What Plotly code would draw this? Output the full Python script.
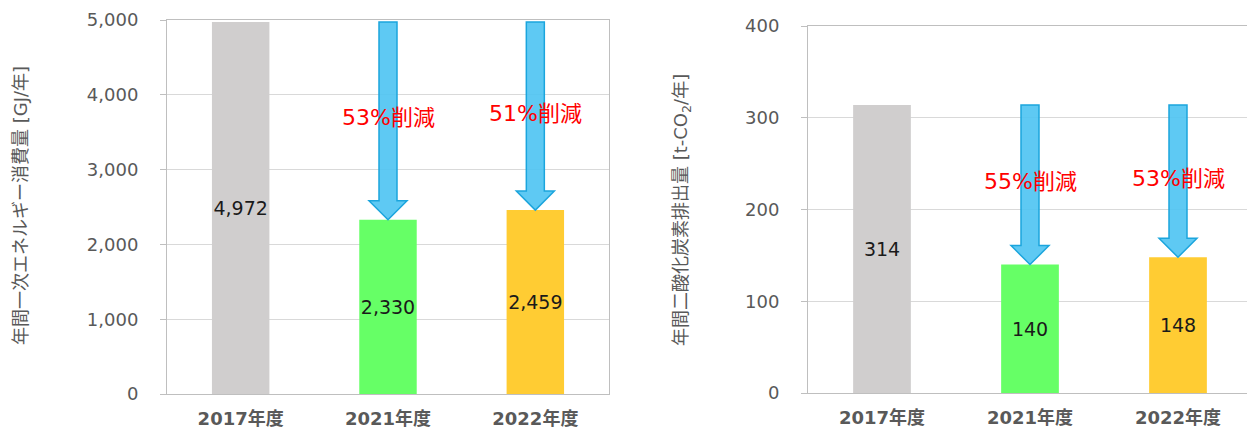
import plotly.graph_objects as go

categories = ["2017年度", "2021年度", "2022年度"]
energy = [4972, 2330, 2459]
co2 = [314, 140, 148]
energy_cut = ["53%削減", "51%削減"]
co2_cut = ["55%削減", "53%削減"]
energy_ticks = [0, 1000, 2000, 3000, 4000, 5000]
co2_ticks = [0, 100, 200, 300, 400]
bar_colors = ["#D0CECE", "#66FF66", "#FFCC33"]

# page is 1255x429; the html body has an 8px default margin
OFF = 8
W, H = 1255 - OFF, 429 - OFF
FONT = "Verdana, 'DejaVu Sans', 'Noto Sans CJK JP', sans-serif"
GRAY = "#595959"

# pixel geometry of each panel (page coordinates)
panels = [
    dict(x0=167, x1=609, ytop=20, ybot=394, ymax=5000, data=energy, cuts=energy_cut, ticks=energy_ticks,
         xa="x", ya="y", title="年間一次エネルギー消費量 [GJ/年]", tx=20, ty=206),
    dict(x0=808, x1=1252, ytop=26, ybot=393, ymax=400, data=co2, cuts=co2_cut, ticks=co2_ticks,
         xa="x2", ya="y2", title="年間二酸化炭素排出量 [t-CO<sub>2</sub>/年]", tx=682, ty=210),
]


def px(v):
    return (v - OFF) / W


def py(v):
    return 1 - (v - OFF) / H


fig = go.Figure()
shapes = []
annotations = []
xs = list(range(len(categories)))

for i, p in enumerate(panels):
    fig.add_trace(go.Bar(
        x=xs, y=p["data"], marker=dict(color=bar_colors, line=dict(width=0)),
        width=0.39, texttemplate="%{y:,.0f}", textposition="inside", textangle=0,
        insidetextanchor="middle", textfont=dict(family=FONT, size=19, color="#1a1a1a"),
        constraintext="none", xaxis=p["xa"], yaxis=p["ya"], showlegend=False,
        hoverinfo="skip",
    ))
    pxu = (p["x1"] - p["x0"]) / 3.0  # px per category unit
    pyu = (p["ybot"] - p["ytop"]) / p["ymax"]  # px per data unit
    shaft = 9 / pxu
    head = 19 / pxu
    headh = 19 / pyu
    base = p["data"][0]
    for k, (val, txt) in enumerate(zip(p["data"][1:], p["cuts"]), start=1):
        cx = xs[k]
        path = (f"M {cx-shaft},{base} L {cx+shaft},{base} L {cx+shaft},{val+headh} "
                f"L {cx+head},{val+headh} L {cx},{val} L {cx-head},{val+headh} "
                f"L {cx-shaft},{val+headh} Z")
        shapes.append(dict(type="path", path=path, xref=p["xa"], yref=p["ya"],
                           fillcolor="rgba(80,196,242,0.92)", line=dict(color="#1BA5DD", width=1.5),
                           layer="above"))
        annotations.append(dict(x=cx, y=(base + val) / 2, xref=p["xa"], yref=p["ya"], text=txt,
                                showarrow=False, yshift=3,
                                font=dict(family=FONT, size=22, color="#FF0000")))
    annotations.append(dict(x=px(p["tx"]), y=py(p["ty"]), xref="paper", yref="paper",
                            text=p["title"], textangle=-90, showarrow=False,
                            xanchor="center", yanchor="middle",
                            font=dict(family=FONT, size=18, color=GRAY)))

axis_common = dict(showline=True, linecolor="#BFBFBF", linewidth=1, mirror=True, automargin=False)

fig.update_layout(
    width=W, height=H, margin=dict(l=0, r=0, t=0, b=0, pad=0, autoexpand=False),
    paper_bgcolor="white", plot_bgcolor="white",
    shapes=shapes, annotations=annotations, bargap=0.6,
    xaxis=dict(domain=[px(panels[0]["x0"]), px(panels[0]["x1"])], range=[-0.5, 2.5],
               tickvals=xs, ticktext=categories, ticks="", ticklabelstandoff=8,
               tickfont=dict(family=FONT, size=18, color=GRAY, weight="bold"),
               anchor="y", **axis_common),
    yaxis=dict(domain=[py(panels[0]["ybot"]), py(panels[0]["ytop"])], range=[0, 5000],
               tickvals=energy_ticks, tickformat=",", ticks="outside", ticklen=6, tickcolor="#BFBFBF",
               ticklabelstandoff=18, gridcolor="#D9D9D9", gridwidth=1, zeroline=False,
               tickfont=dict(family=FONT, size=18, color=GRAY), anchor="x", **axis_common),
    xaxis2=dict(domain=[px(panels[1]["x0"]), px(panels[1]["x1"])], range=[-0.5, 2.5],
                tickvals=xs, ticktext=categories, ticks="", ticklabelstandoff=8,
                tickfont=dict(family=FONT, size=18, color=GRAY, weight="bold"),
                anchor="y2", **axis_common),
    yaxis2=dict(domain=[py(panels[1]["ybot"]), py(panels[1]["ytop"])], range=[0, 400],
                tickvals=co2_ticks, ticks="outside", ticklen=6, tickcolor="#BFBFBF",
                ticklabelstandoff=18, gridcolor="#D9D9D9", gridwidth=1, zeroline=False,
                tickfont=dict(family=FONT, size=18, color=GRAY), anchor="x2", **axis_common),
)

fig.write_html("out.html")
